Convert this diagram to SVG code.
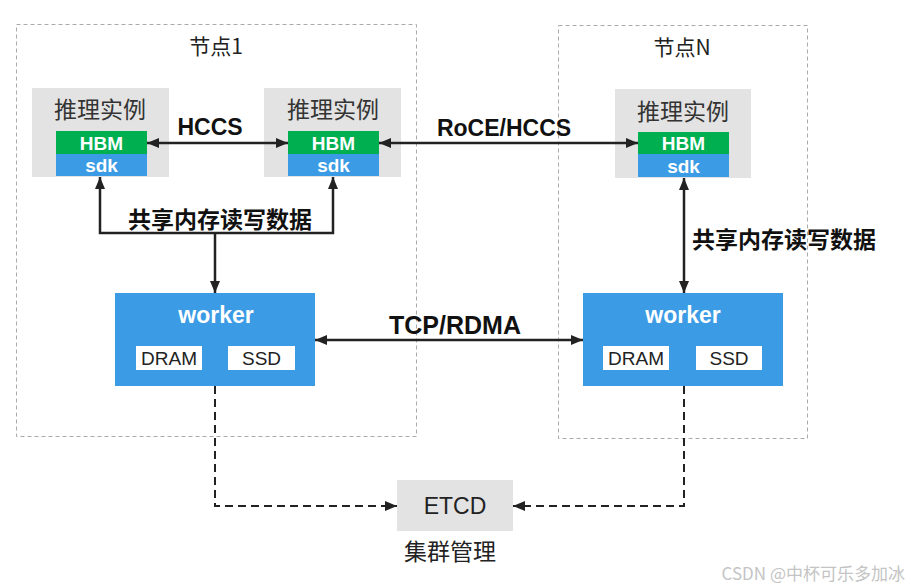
<svg xmlns="http://www.w3.org/2000/svg" width="911" height="587" viewBox="0 0 911 587">
<style>
.cn{font-family:"Noto Sans CJK SC","Liberation Sans",sans-serif;}
.lat{font-family:"Liberation Sans","Noto Sans CJK SC",sans-serif;}
text{dominant-baseline:central;text-anchor:middle;}
.frame{fill:none;stroke:#aaaaaa;stroke-width:1;stroke-dasharray:4 3;}
.gray{fill:#e3e3e3;}
.green{fill:#00b050;}
.blue{fill:#3b9be4;}
.white{fill:#ffffff;}
.title{font-size:21px;fill:#222;}
.inst{font-size:23px;fill:#333;}
.chip{font-size:19px;font-weight:bold;fill:#fff;}
.lbl{font-size:23px;font-weight:bold;fill:#111;}
.mem{font-size:19px;fill:#222;}
.line{fill:none;stroke:#222;stroke-width:2.5;}
.dash{fill:none;stroke:#222;stroke-width:2;stroke-dasharray:8 5;}
</style>
<defs>
<marker id="ah" viewBox="0 0 12 10" refX="12" refY="5" markerWidth="12" markerHeight="10" markerUnits="userSpaceOnUse" orient="auto-start-reverse">
<path d="M0,0 L12,5 L0,10 Z" fill="#222"/>
</marker>
</defs>
<rect width="911" height="587" fill="#ffffff"/>

<g id="node1-frame">
<rect class="frame" x="16.5" y="24.5" width="400" height="412"/>
<text class="cn title" x="216" y="45">节点1</text>
</g>
<g id="nodeN-frame">
<rect class="frame" x="558.5" y="25.5" width="249" height="413"/>
<text class="cn title" x="682" y="46">节点N</text>
</g>

<g id="inst1">
<rect class="gray" x="32" y="88" width="137" height="89"/>
<text class="cn inst" x="100" y="108">推理实例</text>
<rect class="green" x="56" y="131" width="91" height="23"/>
<rect class="blue" x="56" y="154" width="91" height="22"/>
<text class="lat chip" x="101.5" y="143">HBM</text>
<text class="lat chip" x="101.5" y="165">sdk</text>
</g>
<g id="inst2">
<rect class="gray" x="264" y="88" width="137" height="89"/>
<text class="cn inst" x="333" y="108">推理实例</text>
<rect class="green" x="288" y="131" width="91" height="23"/>
<rect class="blue" x="288" y="154" width="91" height="22"/>
<text class="lat chip" x="333.5" y="143">HBM</text>
<text class="lat chip" x="333.5" y="165">sdk</text>
</g>
<g id="instN">
<rect class="gray" x="615" y="89" width="136" height="89"/>
<text class="cn inst" x="683" y="110">推理实例</text>
<rect class="green" x="638" y="132" width="91" height="22"/>
<rect class="blue" x="638" y="154" width="91" height="23"/>
<text class="lat chip" x="683.5" y="143">HBM</text>
<text class="lat chip" x="683.5" y="166">sdk</text>
</g>

<g id="worker1">
<rect class="blue" x="115" y="293" width="200" height="93"/>
<text class="lat" x="216" y="315" style="font-size:23px;font-weight:bold;fill:#fff">worker</text>
<rect class="white" x="136" y="346" width="66" height="24"/>
<rect class="white" x="228" y="346" width="67" height="24"/>
<text class="lat mem" x="169" y="358">DRAM</text>
<text class="lat mem" x="261.5" y="358">SSD</text>
</g>
<g id="workerN">
<rect class="blue" x="583" y="293" width="200" height="93"/>
<text class="lat" x="683" y="315" style="font-size:23px;font-weight:bold;fill:#fff">worker</text>
<rect class="white" x="603" y="346" width="66" height="24"/>
<rect class="white" x="696" y="346" width="66" height="24"/>
<text class="lat mem" x="636" y="358">DRAM</text>
<text class="lat mem" x="729" y="358">SSD</text>
</g>

<g id="etcd">
<rect class="gray" x="397" y="480" width="116" height="51"/>
<text class="lat" x="455" y="506" style="font-size:23px;fill:#222">ETCD</text>
<text class="cn" x="450" y="550" style="font-size:23px;fill:#222">集群管理</text>
</g>

<g id="connectors">
<path class="line" d="M147,143 H288" marker-start="url(#ah)" marker-end="url(#ah)"/>
<text class="lat lbl" x="210" y="127">HCCS</text>
<path class="line" d="M379,143 H638" marker-start="url(#ah)" marker-end="url(#ah)"/>
<text class="lat lbl" x="504" y="128">RoCE/HCCS</text>
<path class="line" d="M100,177 V233 H333 V177" marker-start="url(#ah)" marker-end="url(#ah)"/>
<path class="line" d="M215,233 V293" marker-end="url(#ah)"/>
<text class="cn lbl" x="220" y="218">共享内存读写数据</text>
<path class="line" d="M684,178 V293" marker-start="url(#ah)" marker-end="url(#ah)"/>
<text class="cn lbl" x="784" y="238">共享内存读写数据</text>
<path class="line" d="M315,340 H583" marker-start="url(#ah)" marker-end="url(#ah)"/>
<text class="lat lbl" x="455" y="325" style="font-size:25px">TCP/RDMA</text>
<path class="dash" d="M215,386 V506 H397" marker-end="url(#ah)"/>
<path class="dash" d="M684,386 V506 H513" marker-end="url(#ah)"/>
</g>

<text class="cn" x="905" y="572" style="font-size:17px;fill:#c4c4c4;text-anchor:end">CSDN @中杯可乐多加冰</text>
</svg>
